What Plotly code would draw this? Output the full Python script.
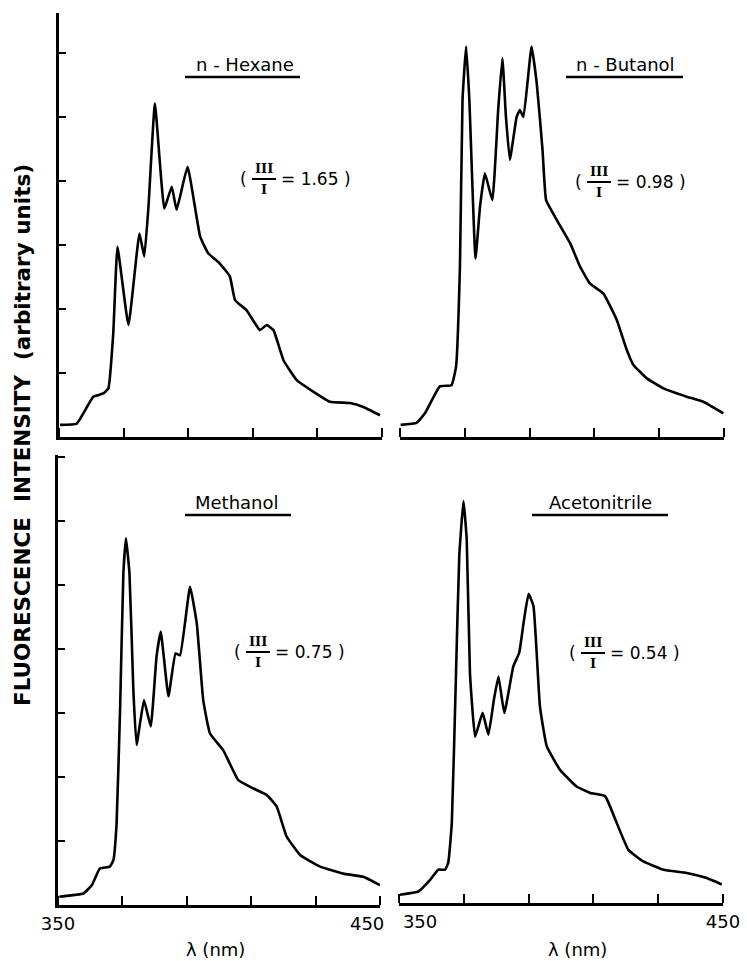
import plotly.graph_objects as go

W, H = 747, 961

# ---------------- data ----------------
hexane_wl = [350.3, 355.5, 360.6, 363.7, 365.3, 366.8, 368.1, 371.5, 374.9, 376.4, 377.7,
             379.7, 382.6, 384.9, 386.4, 389.8, 393.7, 396.2, 399.8, 402.9, 404.5, 408.1,
             412.2, 414.3, 416.4, 419.5, 423.6, 428.7, 433.9, 440.1, 444.2, 449.4]
hexane_int = [0.19, 0.21, 0.63, 0.68, 0.76, 1.62, 2.97, 1.75, 3.18, 2.82, 3.60,
              5.21, 3.57, 3.91, 3.55, 4.22, 3.13, 2.87, 2.71, 2.51, 2.14, 1.98,
              1.67, 1.75, 1.67, 1.20, 0.89, 0.71, 0.55, 0.53, 0.47, 0.34]

butanol_wl = [350.2, 355.1, 357.7, 362.3, 365.9, 367.3, 368.5, 369.3, 370.4, 371.4, 373.3,
              374.7, 376.2, 378.5, 380.3, 381.6, 382.7, 383.9, 386.0, 387.0, 388.1, 390.6,
              392.2, 394.0, 395.1, 398.4, 402.5, 405.6, 408.6, 412.8, 416.9, 420.0, 422.0,
              426.1, 431.3, 438.5, 443.6, 449.8]
butanol_int = [0.19, 0.22, 0.37, 0.79, 0.81, 1.10, 2.66, 5.27, 6.10, 5.27, 2.79,
               3.60, 4.12, 3.70, 5.11, 5.92, 5.00, 4.33, 5.00, 5.11, 5.00, 6.10,
               5.53, 4.48, 3.70, 3.39, 3.03, 2.66, 2.40, 2.24, 1.83, 1.36, 1.13,
               0.92, 0.76, 0.63, 0.55, 0.37]

methanol_wl = [350.4, 357.9, 360.5, 363.0, 366.1, 367.2, 368.2, 369.3, 370.3, 371.1, 372.2,
               373.4, 374.4, 376.7, 378.8, 380.6, 381.9, 384.3, 386.5, 387.9, 391.0, 393.1,
               395.1, 397.2, 401.3, 406.0, 410.7, 414.8, 417.9, 421.0, 425.2, 431.4, 438.6,
               444.8, 450.0]
methanol_int = [0.13, 0.18, 0.31, 0.57, 0.60, 0.70, 1.28, 3.10, 5.18, 5.73, 5.18,
                3.36, 2.50, 3.20, 2.79, 3.88, 4.27, 3.26, 3.93, 3.90, 4.97, 4.40,
                3.20, 2.68, 2.42, 1.95, 1.82, 1.72, 1.54, 1.07, 0.78, 0.60, 0.49,
                0.44, 0.31]

acn_wl = [350.3, 356.0, 359.6, 362.1, 364.2, 365.2, 366.3, 367.6, 368.6, 369.9, 370.9,
          371.9, 373.5, 375.8, 377.6, 379.3, 380.7, 382.5, 385.3, 387.1, 388.6, 390.0,
          391.5, 393.5, 395.6, 399.7, 404.8, 409.0, 413.6, 417.2, 420.8, 425.4, 431.6,
          438.8, 445.0, 449.6]
acn_int = [0.13, 0.18, 0.36, 0.52, 0.52, 0.63, 1.25, 3.59, 5.42, 6.28, 5.68,
           3.59, 2.60, 2.97, 2.63, 3.18, 3.54, 2.97, 3.70, 3.91, 4.43, 4.83,
           4.64, 3.07, 2.45, 2.08, 1.82, 1.72, 1.67, 1.25, 0.83, 0.65, 0.52,
           0.47, 0.39, 0.29]

solvents = ["n - Hexane", "n - Butanol", "Methanol", "Acetonitrile"]
ratios = ["1.65", "0.98", "0.75", "0.54"]
x_tickmarks = [350, 370, 390, 410, 430, 450]
x_ticktext = ["350", "450"]
# label anchor positions (the original lettering sits slightly off the end ticks)
x_labelpos = [[350, 446], [356.5, 450]]
y_title = "FLUORESCENCE\u00a0 INTENSITY\u00a0 (arbitrary units)"
x_title = "λ (nm)"

# ---------------- layout helpers (pixel -> paper) ----------------
def px(x):
    return x / W

def py(y):
    return 1 - y / H

panels = [
    dict(x0=59, x1=382, yt=13, yb=437, ymax=6.625, showy=True, labels=None),
    dict(x0=400, x1=724, yt=13, yb=437, ymax=6.625, showy=False, labels=None),
    dict(x0=58, x1=380, yt=455, yb=905, ymax=7.03, showy=True, labels=0),
    dict(x0=399, x1=723, yt=455, yb=903, ymax=7.0, showy=False, labels=1),
]
series = [(hexane_wl, hexane_int), (butanol_wl, butanol_int),
          (methanol_wl, methanol_int), (acn_wl, acn_int)]

fig = go.Figure()
FONT = "DejaVu Sans"

for i, (p, (wl, it)) in enumerate(zip(panels, series)):
    n = "" if i == 0 else str(i + 1)
    fig.add_trace(go.Scatter(x=wl, y=it, mode="lines",
                             line=dict(color="black", width=2.6, shape="spline", smoothing=0.35),
                             xaxis="x" + n, yaxis="y" + n, showlegend=False,
                             hoverinfo="skip", cliponaxis=False))
    xa = dict(
        domain=[px(p["x0"]), px(p["x1"])], range=[350, 450], anchor="y" + n,
        showgrid=False, zeroline=False, showline=True, linecolor="black", linewidth=3,
        minor=dict(tickmode="array", tickvals=x_tickmarks, ticks="inside", ticklen=9,
                   tickwidth=2, tickcolor="black", showgrid=False),
        ticks="", tickfont=dict(family=FONT, size=18, color="black"),
        automargin=False, fixedrange=True)
    if p["labels"] is None:
        xa.update(tickmode="array", tickvals=[], showticklabels=False)
    else:
        xa.update(tickmode="array", tickvals=x_labelpos[p["labels"]], ticktext=x_ticktext,
                  showticklabels=True)
    fig.layout["xaxis" + n] = xa
    fig.layout["yaxis" + n] = dict(
        domain=[py(p["yb"]), py(p["yt"])], range=[0, p["ymax"]], anchor="x" + n,
        showgrid=False, zeroline=False, showline=p["showy"], linecolor="black", linewidth=3,
        ticks="inside" if p["showy"] else "", ticklen=7, tickwidth=2, tickcolor="black",
        tickvals=[1, 2, 3, 4, 5, 6, 7] if p["showy"] else [], showticklabels=False,
        automargin=False, fixedrange=True)

annotations = []
shapes = []

# panel titles with underline
title_pos = [(245, 65, 185, 300, 77), (625, 65, 566, 683, 77),
             (237, 502, 185, 291, 515), (600, 502, 532, 668, 515)]
for (cx, cy, ux0, ux1, uy), name in zip(title_pos, solvents):
    annotations.append(dict(x=px(cx), y=py(cy), xref="paper", yref="paper", text=name,
                            showarrow=False, xanchor="center", yanchor="middle",
                            font=dict(family=FONT, size=18, color="black")))
    shapes.append(dict(type="line", xref="paper", yref="paper", x0=px(ux0), x1=px(ux1),
                       y0=py(uy), y1=py(uy), line=dict(color="black", width=2.5)))

# ratio labels  ( III / I = value )
ratio_pos = [(243, 179), (578, 182), (237, 652), (572, 653)]
for (lx, ly), r in zip(ratio_pos, ratios):
    annotations.append(dict(x=px(lx), y=py(ly), xref="paper", yref="paper", text="(",
                            showarrow=False, xanchor="center", yanchor="middle",
                            font=dict(family=FONT, size=17, color="black")))
    fx0, fx1 = lx + 9, lx + 33
    fc = (fx0 + fx1) / 2
    shapes.append(dict(type="line", xref="paper", yref="paper", x0=px(fx0), x1=px(fx1),
                       y0=py(ly), y1=py(ly), line=dict(color="black", width=2)))
    annotations.append(dict(x=px(fc), y=py(ly - 1), xref="paper", yref="paper", text="<b>III</b>",
                            showarrow=False, xanchor="center", yanchor="bottom",
                            font=dict(family="DejaVu Serif", size=13, color="black")))
    annotations.append(dict(x=px(fc), y=py(ly + 1), xref="paper", yref="paper", text="<b>I</b>",
                            showarrow=False, xanchor="center", yanchor="top",
                            font=dict(family="DejaVu Serif", size=13, color="black")))
    annotations.append(dict(x=px(fx1 + 3), y=py(ly), xref="paper", yref="paper",
                            text="= " + r + " )",
                            showarrow=False, xanchor="left", yanchor="middle",
                            font=dict(family=FONT, size=17, color="black")))

# x axis titles
for cx in (215, 577):
    annotations.append(dict(x=px(cx), y=py(949), xref="paper", yref="paper", text=x_title,
                            showarrow=False, xanchor="center", yanchor="middle",
                            font=dict(family=FONT, size=18, color="black")))

# y axis title
annotations.append(dict(x=px(22), y=py(435), xref="paper", yref="paper", text="<b>" + y_title + "</b>",
                        showarrow=False, textangle=-90, xanchor="center", yanchor="middle",
                        font=dict(family=FONT, size=21.5, color="black")))

fig.update_layout(width=W, height=H, margin=dict(l=0, r=0, t=0, b=0, autoexpand=False),
                  autosize=False, paper_bgcolor="white", plot_bgcolor="white",
                  annotations=annotations, shapes=shapes, showlegend=False)

fig.write_html("out.html", config={"responsive": False, "displayModeBar": False},
               post_script="document.body.style.margin='0';document.body.style.overflow='hidden';")
